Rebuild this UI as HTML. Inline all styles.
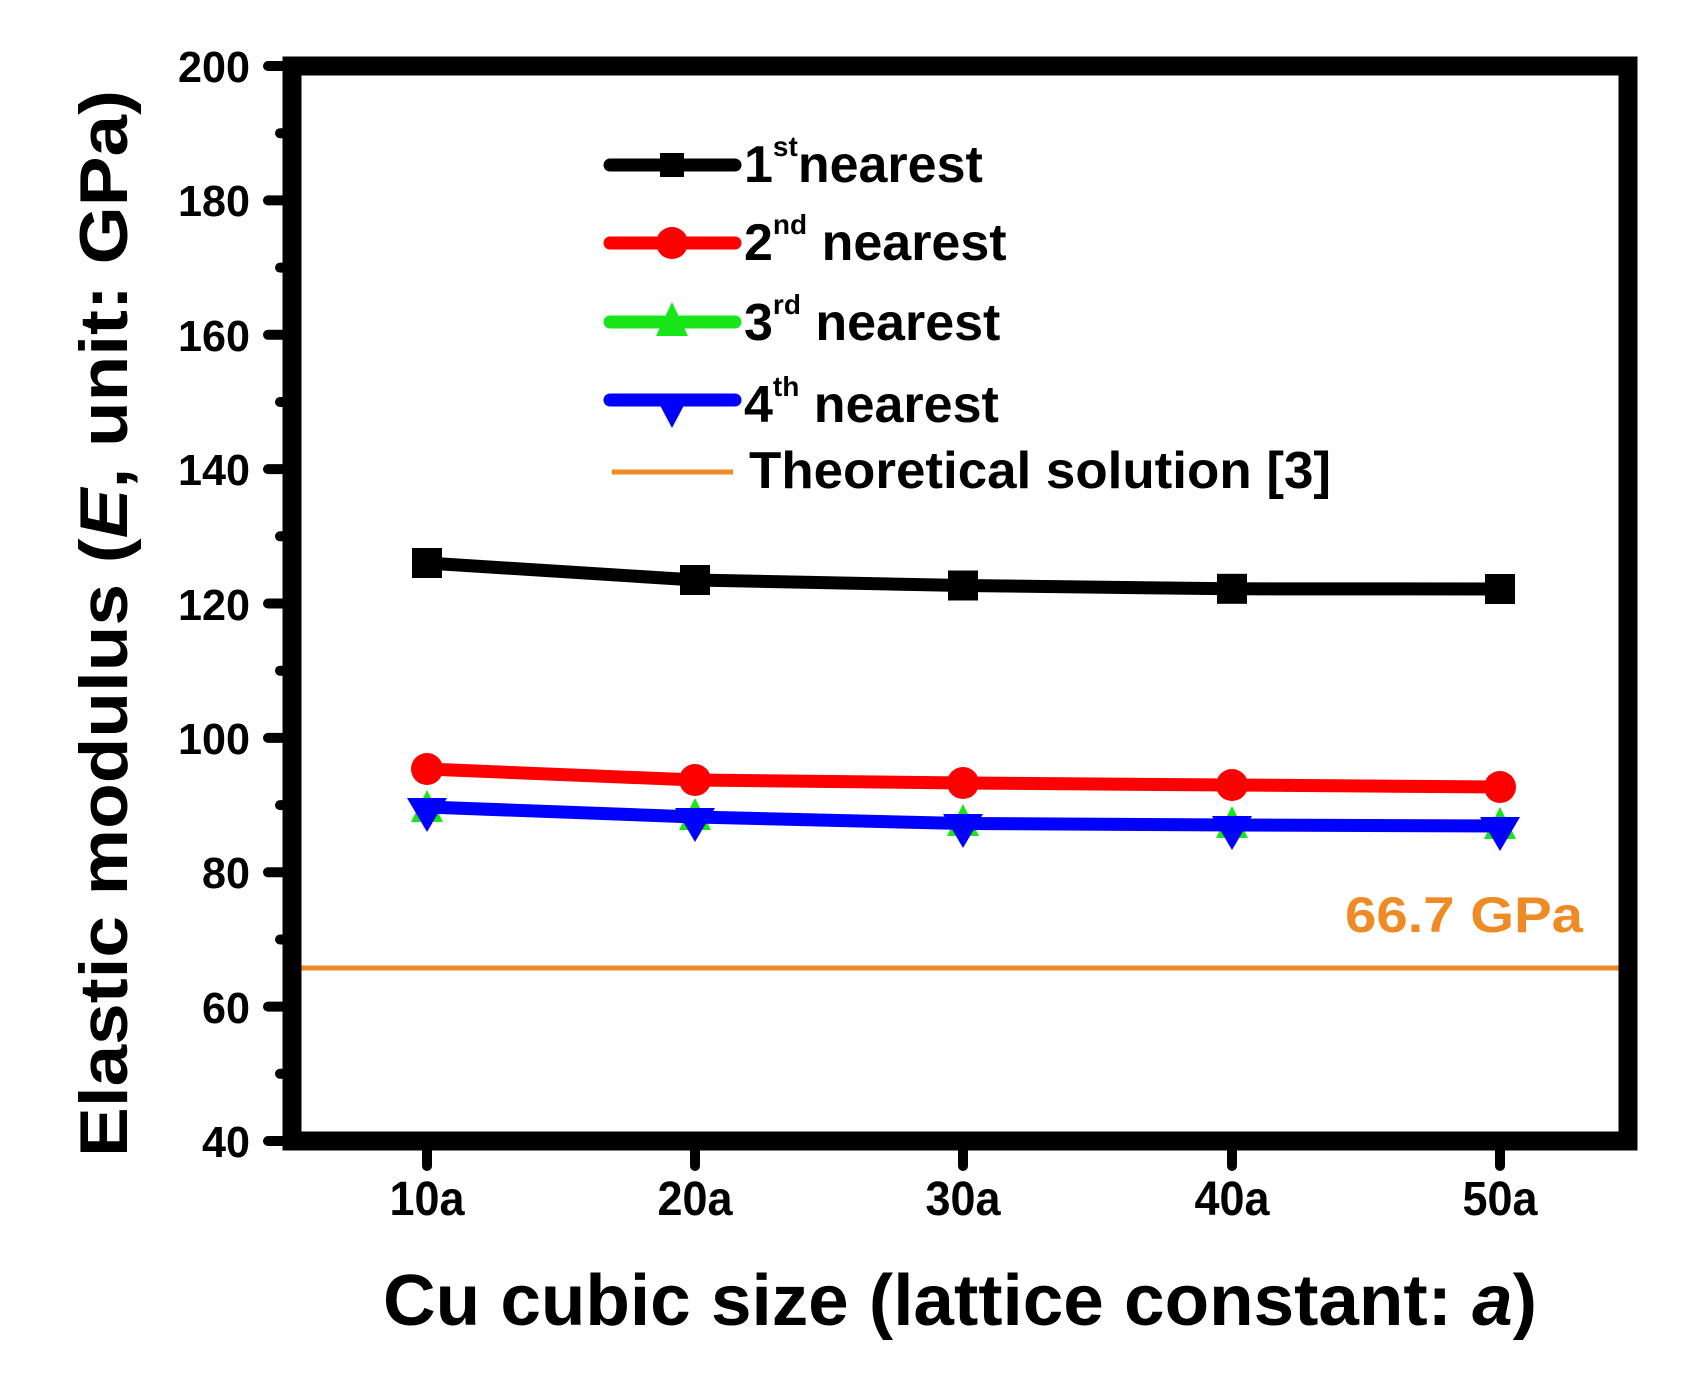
<!DOCTYPE html>
<html><head><meta charset="utf-8"><style>html,body{margin:0;padding:0;background:#fff}svg{display:block}</style></head>
<body>
<svg width="1689" height="1387" viewBox="0 0 1689 1387" xmlns="http://www.w3.org/2000/svg" font-family="Liberation Sans, Arial, sans-serif" font-weight="bold">
<rect width="1689" height="1387" fill="#fff"/>
<!-- y ticks -->
<g stroke="#000" stroke-width="10" stroke-linecap="round">
<line x1="268" y1="66" x2="292" y2="66"/><line x1="268" y1="200.4" x2="292" y2="200.4"/><line x1="268" y1="334.8" x2="292" y2="334.8"/><line x1="268" y1="469.1" x2="292" y2="469.1"/><line x1="268" y1="603.5" x2="292" y2="603.5"/><line x1="268" y1="737.9" x2="292" y2="737.9"/><line x1="268" y1="872.3" x2="292" y2="872.3"/><line x1="268" y1="1006.6" x2="292" y2="1006.6"/><line x1="268" y1="1141" x2="292" y2="1141"/>
<line x1="280" y1="133.2" x2="292" y2="133.2"/><line x1="280" y1="267.6" x2="292" y2="267.6"/><line x1="280" y1="402" x2="292" y2="402"/><line x1="280" y1="536.3" x2="292" y2="536.3"/><line x1="280" y1="670.7" x2="292" y2="670.7"/><line x1="280" y1="805.1" x2="292" y2="805.1"/><line x1="280" y1="939.5" x2="292" y2="939.5"/><line x1="280" y1="1073.8" x2="292" y2="1073.8"/>
<line x1="427" y1="1141" x2="427" y2="1166"/><line x1="695" y1="1141" x2="695" y2="1166"/><line x1="963" y1="1141" x2="963" y2="1166"/><line x1="1232" y1="1141" x2="1232" y2="1166"/><line x1="1500" y1="1141" x2="1500" y2="1166"/>
</g>
<g font-size="44" text-anchor="end" fill="#000">
<text x="250" y="82" textLength="72" lengthAdjust="spacingAndGlyphs">200</text>
<text x="250" y="216" textLength="72" lengthAdjust="spacingAndGlyphs">180</text>
<text x="250" y="351" textLength="72" lengthAdjust="spacingAndGlyphs">160</text>
<text x="250" y="485" textLength="72" lengthAdjust="spacingAndGlyphs">140</text>
<text x="250" y="620" textLength="72" lengthAdjust="spacingAndGlyphs">120</text>
<text x="250" y="754" textLength="72" lengthAdjust="spacingAndGlyphs">100</text>
<text x="250" y="888" textLength="48" lengthAdjust="spacingAndGlyphs">80</text>
<text x="250" y="1023" textLength="48" lengthAdjust="spacingAndGlyphs">60</text>
<text x="250" y="1157" textLength="48" lengthAdjust="spacingAndGlyphs">40</text>
</g>
<g font-size="48" text-anchor="middle" fill="#000">
<text x="427" y="1215" textLength="75" lengthAdjust="spacingAndGlyphs">10a</text>
<text x="695" y="1215" textLength="75" lengthAdjust="spacingAndGlyphs">20a</text>
<text x="963" y="1215" textLength="75" lengthAdjust="spacingAndGlyphs">30a</text>
<text x="1232" y="1215" textLength="75" lengthAdjust="spacingAndGlyphs">40a</text>
<text x="1500" y="1215" textLength="75" lengthAdjust="spacingAndGlyphs">50a</text>
</g>
<!-- orange theoretical line -->
<line x1="297" y1="968" x2="1626" y2="968" stroke="#f08a24" stroke-width="5"/>
<text x="1345" y="932" font-size="50" fill="#f08a24" textLength="238" lengthAdjust="spacingAndGlyphs">66.7 GPa</text>
<!-- series -->
<polyline points="427,563 695,580 963,585.5 1232,588.8 1500,589" fill="none" stroke="#000" stroke-width="13"/>
<g fill="#000"><rect x="412" y="548" width="30" height="30"/><rect x="680" y="565" width="30" height="30"/><rect x="948" y="570.5" width="30" height="30"/><rect x="1217" y="573.8" width="30" height="30"/><rect x="1485" y="574" width="30" height="30"/></g>
<g fill="#19e619"><polygon points="427,790 443,822 411,822"/><polygon points="695,798 711,830 679,830"/><polygon points="963,804 979,836 947,836"/><polygon points="1232,806 1248,838 1216,838"/><polygon points="1500,807 1516,839 1484,839"/></g>
<polyline points="427,769 695,780 963,783 1232,785 1500,787" fill="none" stroke="#f00" stroke-width="13"/>
<g fill="#f00"><circle cx="427" cy="769" r="16"/><circle cx="695" cy="780" r="16"/><circle cx="963" cy="783" r="16"/><circle cx="1232" cy="785" r="16"/><circle cx="1500" cy="787" r="16"/></g>
<polyline points="427,807 695,817 963,823.5 1232,825 1500,826" fill="none" stroke="#0000ff" stroke-width="13"/>
<g fill="#0000ff"><polygon points="407,798 447,798 427,832"/><polygon points="675,808 715,808 695,842"/><polygon points="943,814 983,814 963,848"/><polygon points="1212,816 1252,816 1232,850"/><polygon points="1480,817 1520,817 1500,851"/></g>
<!-- frame -->
<rect x="292" y="66" width="1336" height="1075" fill="none" stroke="#000" stroke-width="19"/>
<!-- legend -->
<line x1="610" y1="165" x2="735" y2="165" stroke="#000" stroke-width="13" stroke-linecap="round"/><rect x="660" y="153" width="24" height="24" fill="#000"/>
<line x1="610" y1="243" x2="735" y2="243" stroke="#f00" stroke-width="13" stroke-linecap="round"/><circle cx="672" cy="243" r="16" fill="#f00"/>
<line x1="610" y1="322" x2="735" y2="322" stroke="#19e619" stroke-width="13" stroke-linecap="round"/><polygon points="672,302 688,336 656,336" fill="#19e619"/>
<line x1="610" y1="400" x2="735" y2="400" stroke="#0000ff" stroke-width="13" stroke-linecap="round"/><polygon points="654,394 690,394 672,428" fill="#0000ff"/>
<line x1="612" y1="472" x2="733" y2="472" stroke="#f08a24" stroke-width="5"/>
<g font-size="52" fill="#000">
<text x="744" y="182">1<tspan font-size="28" dy="-26">st</tspan><tspan dy="26">nearest</tspan></text>
<text x="744" y="260">2<tspan font-size="28" dy="-26">nd</tspan><tspan dy="26"> nearest</tspan></text>
<text x="744" y="340">3<tspan font-size="28" dy="-26">rd</tspan><tspan dy="26"> nearest</tspan></text>
<text x="744" y="422">4<tspan font-size="28" dy="-26">th</tspan><tspan dy="26"> nearest</tspan></text>
<text x="749" y="488" textLength="582" lengthAdjust="spacingAndGlyphs">Theoretical solution [3]</text>
</g>
<!-- axis titles -->
<text x="383" y="1325" font-size="72" fill="#000" textLength="1154" lengthAdjust="spacingAndGlyphs">Cu cubic size (lattice constant: <tspan font-style="italic">a</tspan>)</text>
<text transform="translate(127,1157) rotate(-90)" x="0" y="0" font-size="68" fill="#000" textLength="1067" lengthAdjust="spacingAndGlyphs">Elastic modulus (<tspan font-style="italic">E</tspan>, unit: GPa)</text>
</svg>
</body></html>
